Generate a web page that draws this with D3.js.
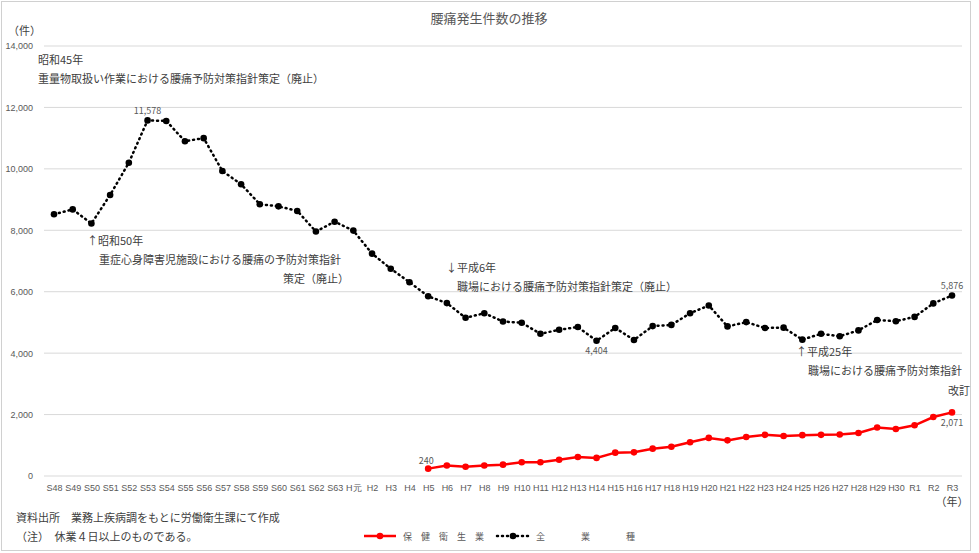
<!DOCTYPE html>
<html><head><meta charset="utf-8">
<script src="https://cdn.jsdelivr.net/npm/d3@7"></script>
<style>body{margin:0;background:#fff;font-family:"Noto Sans CJK JP","Noto Sans",sans-serif;}</style>
</head><body><svg id="c" width="979" height="553"></svg>
<script>
const categories=["S48","S49","S50","S51","S52","S53","S54","S55","S56","S57","S58","S59","S60","S61","S62","S63","H元","H2","H3","H4","H5","H6","H7","H8","H9","H10","H11","H12","H13","H14","H15","H16","H17","H18","H19","H20","H21","H22","H23","H24","H25","H26","H27","H28","H29","H30","R1","R2","R3"];
const allIndustries=[8520,8680,8220,9150,10200,11578,11560,10900,11000,9930,9500,8850,8780,8630,7960,8280,7990,7240,6750,6310,5850,5630,5150,5300,5030,4990,4630,4760,4850,4404,4820,4430,4880,4920,5300,5550,4870,5010,4820,4830,4440,4630,4550,4740,5080,5040,5180,5620,5876];
const healthCats=categories.slice(20);
const healthcare=[240,340,300,340,370,450,450,530,620,590,760,770,890,950,1100,1240,1160,1270,1340,1300,1330,1340,1350,1400,1580,1530,1650,1920,2071];
const yTicks=[0,2000,4000,6000,8000,10000,12000,14000];

const svg=d3.select("#c");
svg.append("rect").attr("x",1.5).attr("y",1.5).attr("width",969).attr("height",549).attr("fill","#fff").attr("stroke","#d0d0d0");
const x=d3.scalePoint().domain(categories).range([54,952]);
const y=d3.scaleLinear().domain([0,14000]).range([476,46]);
const g=svg.append("g");
yTicks.forEach(t=>{
 g.append("line").attr("x1",44).attr("x2",962).attr("y1",y(t)).attr("y2",y(t)).attr("stroke","#d9d9d9");
});
const ya=g.append("g").attr("transform","translate(36,0)").call(d3.axisLeft(y).tickValues(yTicks).tickSize(0).tickFormat(d3.format(",")));
ya.select(".domain").remove();
ya.selectAll("text").attr("fill","#595959").style("font-size","9px").style("font-family","Liberation Sans,Arial");
const xa=g.append("g").attr("transform","translate(0,482)").call(d3.axisBottom(x).tickSize(0));
xa.select(".domain").remove();
xa.selectAll("text").attr("fill","#595959").style("font-size","9px").style("font-family","Liberation Sans,Arial");

const line=d3.line().x((d,i)=>x(categories[i])).y(d=>y(d));
g.append("path").datum(allIndustries).attr("d",line).attr("fill","none").attr("stroke","#000").attr("stroke-width",2.5).attr("stroke-dasharray","1,4").attr("stroke-linecap","round");
g.selectAll(".pa").data(allIndustries).join("circle").attr("cx",(d,i)=>x(categories[i])).attr("cy",d=>y(d)).attr("r",3.3).attr("fill","#000");
const line2=d3.line().x((d,i)=>x(healthCats[i])).y(d=>y(d));
g.append("path").datum(healthcare).attr("d",line2).attr("fill","none").attr("stroke","#ff0000").attr("stroke-width",2.5);
g.selectAll(".ph").data(healthcare).join("circle").attr("cx",(d,i)=>x(healthCats[i])).attr("cy",d=>y(d)).attr("r",3.3).attr("fill","#ff0000");

function t(xp,yp,s,opt={}){const e=svg.append("text").attr("x",xp).attr("y",yp).text(s).attr("fill",opt.c||"#404040").style("font-size",(opt.fs||11)+"px");if(opt.a)e.attr("text-anchor",opt.a);return e;}
const f=d3.format(",");
t(x("S53"),y(11578)-6,f(11578),{fs:9,a:"middle",c:"#595959"});
t(x("H14"),y(4404)+13,f(4404),{fs:9,a:"middle",c:"#595959"});
t(x("R3"),y(5876)-7,f(5876),{fs:9,a:"middle",c:"#595959"});
t(x("H5")-2,y(240)-5,f(240),{fs:9,a:"middle",c:"#595959"});
t(x("R3"),y(2071)+14,f(2071),{fs:9,a:"middle",c:"#595959"});

t(489,23,"腰痛発生件数の推移",{fs:13,a:"middle",c:"#595959"});
t(8,35,"（件）",{fs:11});
t(38,64,"昭和45年",{fs:11});
t(38,83,"重量物取扱い作業における腰痛予防対策指針策定（廃止）",{fs:11});
t(87,245,"↑昭和50年",{fs:11});
t(99,264,"重症心身障害児施設における腰痛の予防対策指針",{fs:11});
t(349,283,"策定（廃止）",{fs:11,a:"end"});
t(446,272,"↓平成6年",{fs:11});
t(457,291,"職場における腰痛予防対策指針策定（廃止）",{fs:11});
t(796,356,"↑平成25年",{fs:11});
t(808,375,"職場における腰痛予防対策指針",{fs:11});
t(970,395,"改訂",{fs:11,a:"end"});
t(952,506,"（年）",{fs:11,a:"middle"});
t(16,522,"資料出所　業務上疾病調をもとに労働衛生課にて作成",{fs:11});
t(16,541,"（注）　休業４日以上のものである。",{fs:11});
// legend
svg.append("line").attr("x1",364).attr("x2",396).attr("y1",536).attr("y2",536).attr("stroke","#ff0000").attr("stroke-width",2.5);
svg.append("circle").attr("cx",380).attr("cy",536).attr("r",3.3).attr("fill","#ff0000");
t(403,540,"保　健　衛　生　業",{fs:9,c:"#595959"});
svg.append("line").attr("x1",497).attr("x2",529).attr("y1",536).attr("y2",536).attr("stroke","#000").attr("stroke-width",2.5).attr("stroke-dasharray","1,4").attr("stroke-linecap","round");
svg.append("circle").attr("cx",513).attr("cy",536).attr("r",3.3).attr("fill","#000");
t(536,540,"全　　　　業　　　　種",{fs:9,c:"#595959"});
</script></body></html>
